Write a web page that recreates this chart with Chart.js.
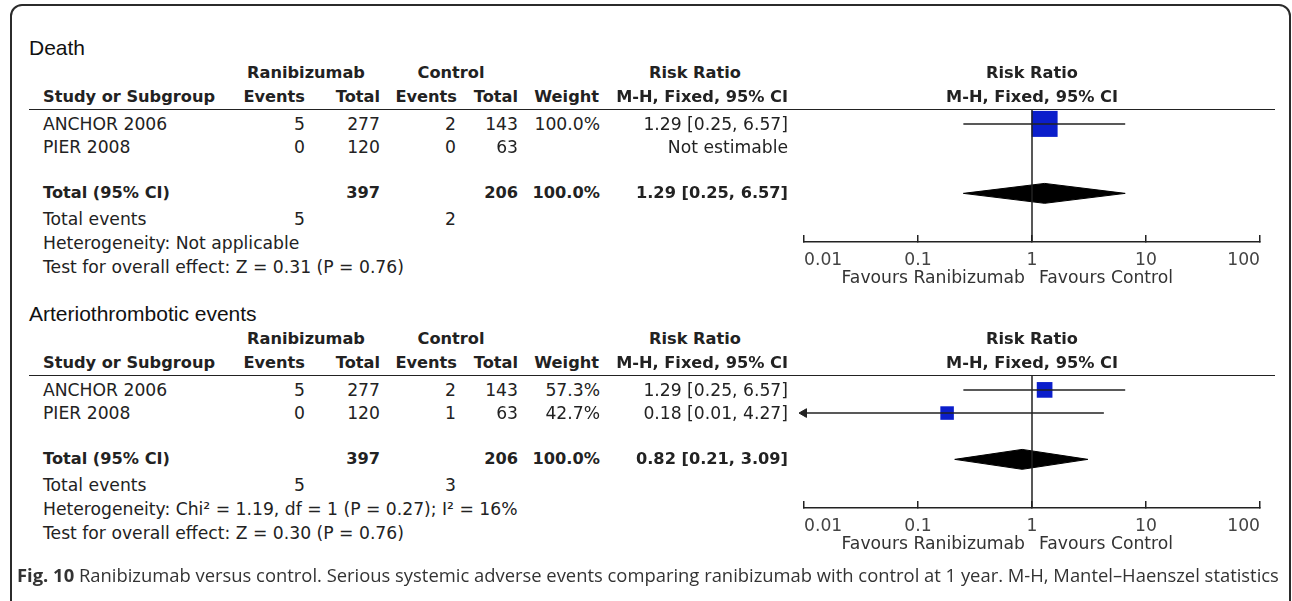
<!DOCTYPE html>
<html>
<head>
<meta charset="utf-8">
<script src="https://cdn.jsdelivr.net/npm/chart.js@4.4.1/dist/chart.umd.min.js"></script>
<style>
html, body { margin: 0; padding: 0; background: #fff; }
#page { position: relative; width: 1292px; height: 601px; overflow: hidden; }
#frame { position: absolute; left: 10px; top: 4px; width: 1277px; height: 640px; border: 2px solid #2b2b2b; border-radius: 12px; }
.t { position: absolute; white-space: nowrap; font-family: "DejaVu Sans"; font-size: 17.2px; color: #222; line-height: 20px; }
.b { font-weight: bold; font-size: 16.2px; }
.title { font-family: "Liberation Sans"; font-size: 21px; color: #111; }
.cap { font-family: "Open Sans"; font-size: 18.4px; color: #333; }
.rule { position: absolute; height: 0; border-top: 1.5px solid #222; }
canvas { position: absolute; }
</style>
</head>
<body>
<div id="page">
  <div id="frame"></div>
  <canvas id="deathChart" width="496" height="240"></canvas>
  <canvas id="artChart" width="496" height="240"></canvas>
</div>
<script>
// ---- data ----
const studies = ['ANCHOR 2006', 'PIER 2008'];
const tickValues = [0.01, 0.1, 1, 10, 100];
const favourLabels = ['Favours Ranibizumab', 'Favours Control'];

// Death
const deathRaniEvents = [5, 0];
const deathRaniTotal = [277, 120];
const deathCtrlEvents = [2, 0];
const deathCtrlTotal = [143, 63];
const deathWeight = [100.0, null];
const deathRR = [1.29, null];
const deathLower = [0.25, null];
const deathUpper = [6.57, null];
const deathTotals = [397, 206];
const deathEvents = [5, 2];
const deathPooled = [1.29, 0.25, 6.57];
const deathHet = 'Heterogeneity: Not applicable';
const deathTest = 'Test for overall effect: Z = 0.31 (P = 0.76)';

// Arteriothrombotic events
const artRaniEvents = [5, 0];
const artRaniTotal = [277, 120];
const artCtrlEvents = [2, 1];
const artCtrlTotal = [143, 63];
const artWeight = [57.3, 42.7];
const artRR = [1.29, 0.18];
const artLower = [0.25, 0.01];
const artUpper = [6.57, 4.27];
const artTotals = [397, 206];
const artEvents = [5, 3];
const artPooled = [0.82, 0.21, 3.09];
const artHet = 'Heterogeneity: Chi² = 1.19, df = 1 (P = 0.27); I² = 16%';
const artTest = 'Test for overall effect: Z = 0.30 (P = 0.76)';

// ---- layout / style ----
const X_MIN = 0.01, X_MAX = 100;
const Y_MIN = -0.6, Y_MAX = 5.1;   // header rule .. axis line, in row units
const TOTAL_ROW = 3;
const DIAMOND_H = 0.43;
const BLUE = '#0b1ecb';
const page = document.getElementById('page');

function put(text, x, y, align, cls) {
  const d = document.createElement('div');
  d.className = 't ' + (cls || '');
  d.textContent = text;
  d.style.left = x + 'px';
  d.style.top = y + 'px';
  const tx = align === 'right' ? '-100%' : align === 'center' ? '-50%' : '0';
  d.style.transform = 'translate(' + tx + ',-50%)';
  page.appendChild(d);
  return d;
}

function rule(x1, x2, y) {
  const d = document.createElement('div');
  d.className = 'rule';
  d.style.left = x1 + 'px';
  d.style.width = (x2 - x1) + 'px';
  d.style.top = y + 'px';
  page.appendChild(d);
}

const fmt = v => v.toFixed(2);
const ciText = (e, l, h) => fmt(e) + ' [' + fmt(l) + ', ' + fmt(h) + ']';

function table(p) {
  const dy = p.dy;
  put(p.title, 29, 48 + dy, 'left', 'title');
  put('Ranibizumab', 306, 73 + dy, 'center', 'b');
  put('Control', 451, 73 + dy, 'center', 'b');
  put('Risk Ratio', 695, 73 + dy, 'center', 'b');
  put('Risk Ratio', 1032, 73 + dy, 'center', 'b');
  put('Study or Subgroup', 43, 97 + dy, 'left', 'b');
  put('Events', 305, 97 + dy, 'right', 'b');
  put('Total', 380, 97 + dy, 'right', 'b');
  put('Events', 457, 97 + dy, 'right', 'b');
  put('Total', 518, 97 + dy, 'right', 'b');
  put('Weight', 599, 97 + dy, 'right', 'b');
  put('M-H, Fixed, 95% CI', 788, 97 + dy, 'right', 'b');
  put('M-H, Fixed, 95% CI', 1032, 97 + dy, 'center', 'b');
  rule(29, 1275, 109 + dy);

  studies.forEach((s, i) => {
    const y = 124 + i * 23.2 + dy;
    put(s, 43, y, 'left');
    put(String(p.re[i]), 305, y, 'right');
    put(String(p.rt[i]), 380, y, 'right');
    put(String(p.ce[i]), 456, y, 'right');
    put(String(p.ct[i]), 518, y, 'right');
    if (p.w[i] != null) put(p.w[i].toFixed(1) + '%', 600, y, 'right');
    put(p.rr[i] == null ? 'Not estimable' : ciText(p.rr[i], p.lo[i], p.hi[i]), 788, y, 'right');
  });

  const ty = 193 + dy;
  put('Total (95% CI)', 43, ty, 'left', 'b');
  put(String(p.totals[0]), 380, ty, 'right', 'b');
  put(String(p.totals[1]), 518, ty, 'right', 'b');
  put('100.0%', 600, ty, 'right', 'b');
  put(ciText(p.pooled[0], p.pooled[1], p.pooled[2]), 788, ty, 'right', 'b');

  put('Total events', 43, 219 + dy, 'left');
  put(String(p.events[0]), 305, 219 + dy, 'right');
  put(String(p.events[1]), 456, 219 + dy, 'right');
  put(p.het, 43, 243 + dy, 'left');
  put(p.test, 43, 267 + dy, 'left');
}

const favours = {
  id: 'favours',
  afterDraw(chart) {
    const xs = chart.scales.x, ctx = chart.ctx;
    const x1 = xs.getPixelForValue(1), y = xs.top + 37;
    ctx.save();
    ctx.font = '17.2px "DejaVu Sans"';
    ctx.fillStyle = '#333';
    ctx.textBaseline = 'middle';
    ctx.textAlign = 'right';
    ctx.fillText(favourLabels[0], x1 - 7, y);
    ctx.textAlign = 'left';
    ctx.fillText(favourLabels[1], x1 + 7, y);
    ctx.restore();
  }
};

function forest(id, p) {
  const el = document.getElementById(id);
  el.style.left = '784px';
  el.style.top = (60 + p.dy) + 'px';

  const ds = [];
  ds.push({ type: 'line', data: [{ x: 1, y: Y_MIN }, { x: 1, y: Y_MAX }],
    borderColor: '#222', borderWidth: 1.5, pointRadius: 0, clip: false });

  p.rr.forEach((v, i) => {
    if (v == null) return;
    const arrow = p.lo[i] <= X_MIN;
    ds.push({ type: 'line', data: [{ x: Math.max(p.lo[i], X_MIN), y: i }, { x: p.hi[i], y: i }],
      borderColor: '#222', borderWidth: 1.5, clip: false,
      pointRadius: [arrow ? 5 : 0, 0], pointStyle: 'triangle', pointRotation: -90,
      pointBackgroundColor: '#222', pointBorderColor: '#222', pointBorderWidth: 1 });
    const side = p.boxScale * Math.sqrt(p.w[i]);
    ds.push({ type: 'scatter', data: [{ x: v, y: i }], pointStyle: 'rect',
      pointRadius: side / 1.414, backgroundColor: BLUE, borderColor: BLUE, borderWidth: 0, clip: false });
  });

  const [est, lo, hi] = p.pooled;
  ds.push({ type: 'line', fill: 'shape', clip: false,
    data: [{ x: lo, y: TOTAL_ROW }, { x: est, y: TOTAL_ROW - DIAMOND_H }, { x: hi, y: TOTAL_ROW },
           { x: est, y: TOTAL_ROW + DIAMOND_H }, { x: lo, y: TOTAL_ROW }],
    backgroundColor: '#000', borderColor: '#000', borderWidth: 1, pointRadius: 0 });

  new Chart(el, {
    type: 'scatter',
    data: { datasets: ds },
    plugins: [favours],
    options: {
      responsive: false,
      animation: false,
      layout: { padding: { left: 20, right: 20, top: 50, bottom: 0 } },
      plugins: { legend: { display: false }, tooltip: { enabled: false } },
      scales: {
        x: {
          type: 'logarithmic', min: X_MIN, max: X_MAX,
          afterBuildTicks: s => { s.ticks = tickValues.map(v => ({ value: v })); },
          afterFit: s => { s.height = 58; s.paddingLeft = 0; s.paddingRight = 0; },
          border: { color: '#222', width: 1.5 },
          grid: { drawOnChartArea: false, tickLength: -7, color: '#222', lineWidth: 1.5 },
          ticks: { align: 'inner', padding: 15, autoSkip: false, maxRotation: 0,
            color: '#444', font: { family: 'DejaVu Sans', size: 17.2 },
            callback: v => String(v) }
        },
        y: { type: 'linear', reverse: true, min: Y_MIN, max: Y_MAX, display: false }
      }
    }
  });
}

const panels = [
  { id: 'deathChart', dy: 0, title: 'Death', re: deathRaniEvents, rt: deathRaniTotal,
    ce: deathCtrlEvents, ct: deathCtrlTotal, w: deathWeight, rr: deathRR, lo: deathLower, hi: deathUpper,
    totals: deathTotals, events: deathEvents, pooled: deathPooled, het: deathHet, test: deathTest, boxScale: 2.6 },
  { id: 'artChart', dy: 266, title: 'Arteriothrombotic events', re: artRaniEvents, rt: artRaniTotal,
    ce: artCtrlEvents, ct: artCtrlTotal, w: artWeight, rr: artRR, lo: artLower, hi: artUpper,
    totals: artTotals, events: artEvents, pooled: artPooled, het: artHet, test: artTest, boxScale: 2.07 }
];

panels.forEach(p => { table(p); forest(p.id, p); });

const cap = put('', 17, 575, 'left', 'cap');
cap.innerHTML = '<b>Fig. 10</b> Ranibizumab versus control. Serious systemic adverse events comparing ranibizumab with control at 1 year. M-H, Mantel\u2013Haenszel statistics';
</script>
</body>
</html>
